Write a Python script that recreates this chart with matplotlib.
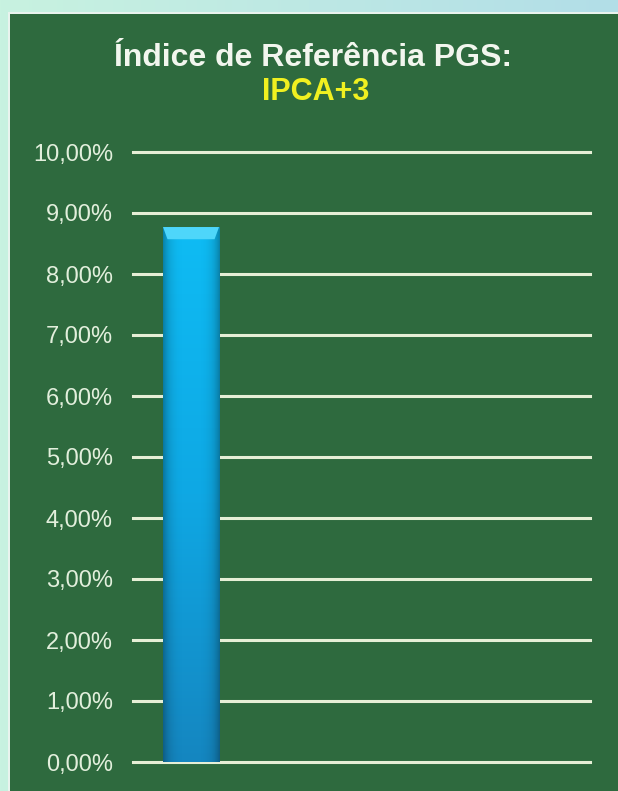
import numpy as np
import matplotlib
matplotlib.use('Agg')
from matplotlib import pyplot as plt
from matplotlib.patches import Rectangle, Polygon
from matplotlib.colors import LinearSegmentedColormap

# data
categories = ['PGS']
values = [8.77]
yticks = [0, 1, 2, 3, 4, 5, 6, 7, 8, 9, 10]
ytick_labels = ['0,00%', '1,00%', '2,00%', '3,00%', '4,00%', '5,00%',
                '6,00%', '7,00%', '8,00%', '9,00%', '10,00%']
title_line1 = 'Índice de Referência PGS:'
title_line2 = 'IPCA+3'

green = '#2e6a3e'
grid_col = '#e6efd6'

plt.rcParams['font.family'] = ['Liberation Sans', 'DejaVu Sans']

fig = plt.figure(figsize=(6.18, 7.91), dpi=100)
fig.patch.set_facecolor('#c4eede')

# top light strip gradient + green panel
bg = fig.add_axes([0, 0, 1, 1], zorder=-5)
bg.axis('off')
grad = np.linspace(0, 1, 256).reshape(1, -1)
bg.imshow(grad, aspect='auto', extent=[0, 1, 0, 1],
          cmap=LinearSegmentedColormap.from_list('bgc', ['#c8f2e0', '#b2dee8']))
bg.add_patch(Rectangle((8 / 618, 0), 1, 1 - 12 / 791, facecolor='#e9f3ee', edgecolor='none'))
bg.add_patch(Rectangle((10 / 618, 0), 1, 1 - 14 / 791, facecolor=green, edgecolor='none'))
bg.set_xlim(0, 1)
bg.set_ylim(0, 1)

ax = fig.add_axes([133 / 618, 29 / 791, 457 / 618, 610 / 791])
ax.set_facecolor('none')
x = np.arange(len(categories))
bars = ax.bar(x, values, width=0.5, color='#12aee8', zorder=3)

# vertical gradient, darker sides and bevelled top
bar_cmap = LinearSegmentedColormap.from_list('barc', ['#1586c0', '#0fa8e4', '#0ebcf4'])
for b in bars:
    x0, w, h = b.get_x(), b.get_width(), b.get_height()
    img = ax.imshow(np.linspace(0, 1, 256).reshape(-1, 1), aspect='auto', origin='lower',
                    extent=[x0, x0 + w, 0, h], cmap=bar_cmap, zorder=4)
    img.set_clip_path(b)
    hz = np.linspace(-1, 1, 64)
    edge = np.zeros((1, 64, 4))
    edge[0, :, 3] = 0.3 * np.abs(hz) ** 4
    ax.imshow(edge, aspect='auto', extent=[x0, x0 + w, 0, h], zorder=5)
    bev = 0.2
    ax.add_patch(Polygon([[x0, h], [x0 + w, h], [x0 + w - 0.04, h - bev], [x0 + 0.04, h - bev]],
                         closed=True, facecolor='#4ed6fa', edgecolor='none', zorder=6))

ax.set_xlim(-0.518, 3.562)
ax.set_ylim(0, 10)
ax.set_yticks(yticks)
ax.set_yticklabels(ytick_labels, fontsize=17, color='#e2efdc')
ax.tick_params(axis='y', length=0, pad=14.4)
ax.set_xticks([])
for s in ax.spines.values():
    s.set_visible(False)
ax.yaxis.grid(True, color=grid_col, linewidth=2.2, zorder=1)
for gl in ax.get_ygridlines():
    gl.set_clip_on(False)
ax.set_axisbelow(True)

fig.text(313 / 618, 1 - 58 / 791, title_line1, ha='center', va='center',
         fontsize=23, fontweight='bold', color='#f2f6ee')
fig.text(316 / 618, 1 - 92 / 791, title_line2, ha='center', va='center',
         fontsize=22, fontweight='bold', color='#f0f020')

fig.savefig('out.png', dpi=100, facecolor=fig.get_facecolor())
